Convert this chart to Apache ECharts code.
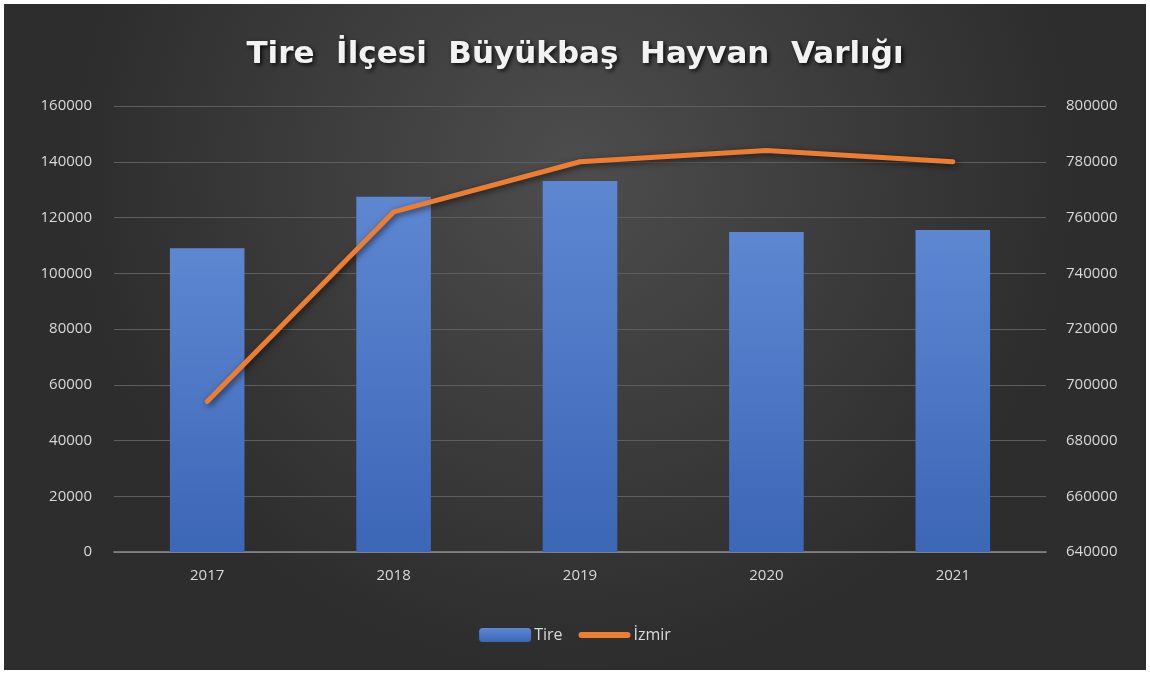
<!DOCTYPE html>
<html>
<head>
<meta charset="utf-8">
<script src="https://cdn.jsdelivr.net/npm/echarts@6/dist/echarts.min.js"></script>
<style>
  html, body { margin: 0; padding: 0; background: #ffffff; }
  #chart { position: absolute; left: 4px; top: 4px; width: 1142px; height: 666px; }
</style>
</head>
<body>
<div id="chart"></div>
<script>
// chart data
const years = ['2017', '2018', '2019', '2020', '2021']
const tireValues = [109000, 127400, 133100, 114800, 115500]
const izmirValues = [694000, 762000, 780000, 784000, 780000]

const chart = echarts.init(document.getElementById('chart'))

const labelStyle = {color: '#d9d9d9', fontSize: 15, fontFamily: 'Open Sans'}
const plain = v => String(v)

chart.setOption({
  backgroundColor: {
    type: 'radial', x: 0.5, y: 0.25, r: 0.75,
    colorStops: [
      {offset: 0, color: '#4d4d4d'},
      {offset: 1, color: '#2d2d2d'}
    ]
  },
  title: {
    text: 'Tire  İlçesi  Büyükbaş  Hayvan  Varlığı',
    left: 'center',
    top: 30,
    textStyle: {
      color: '#f2f2f2',
      fontFamily: 'DejaVu Sans',
      fontWeight: 'bold',
      fontSize: 31,
      textShadowColor: 'rgba(0,0,0,0.8)',
      textShadowBlur: 4,
      textShadowOffsetX: 2,
      textShadowOffsetY: 2
    }
  },
  legend: {
    bottom: 22,
    left: 'center',
    itemWidth: 52,
    itemHeight: 14,
    itemGap: 16,
    textStyle: {color: '#d9d9d9', fontSize: 16, fontFamily: 'Open Sans', padding: [0, 0, 0, -2]},
    data: [
      {name: 'Tire'},
      {name: 'İzmir', icon: 'path://M0,0 M52,14 M3,4 L49,4 Q52,4 52,7 Q52,10 49,10 L3,10 Q0,10 0,7 Q0,4 3,4 Z'}
    ]
  },
  grid: {left: 110, right: 100, top: 102, bottom: 118},
  xAxis: {
    type: 'category',
    data: years,
    axisTick: {show: false},
    axisLine: {lineStyle: {color: '#8c8c8c', width: 1.5}},
    axisLabel: Object.assign({margin: 16}, labelStyle)
  },
  yAxis: [
    {
      type: 'value',
      min: 0, max: 160000, interval: 20000,
      axisLabel: Object.assign({margin: 22, formatter: plain}, labelStyle),
      splitLine: {lineStyle: {color: '#5e5e5e', width: 1}}
    },
    {
      type: 'value',
      min: 640000, max: 800000, interval: 20000,
      axisLabel: Object.assign({margin: 20, formatter: plain}, labelStyle),
      splitLine: {show: false}
    }
  ],
  series: [
    {
      name: 'Tire',
      type: 'bar',
      yAxisIndex: 0,
      data: tireValues,
      barWidth: '40%',
      itemStyle: {
        color: {
          type: 'linear', x: 0, y: 0, x2: 0, y2: 1,
          colorStops: [
            {offset: 0, color: '#5e87d2'},
            {offset: 1, color: '#3c66b6'}
          ]
        },
        shadowColor: 'rgba(0,0,0,0.5)',
        shadowBlur: 8,
        shadowOffsetX: 3,
        shadowOffsetY: 3
      }
    },
    {
      name: 'İzmir',
      type: 'line',
      yAxisIndex: 1,
      data: izmirValues,
      symbol: 'none',
      itemStyle: {color: '#ed7d31'},
      lineStyle: {
        color: '#ed7d31',
        width: 5,
        cap: 'round',
        join: 'round',
        shadowColor: 'rgba(0,0,0,0.6)',
        shadowBlur: 6,
        shadowOffsetX: 2,
        shadowOffsetY: 2
      }
    }
  ]
})
</script>
</body>
</html>
